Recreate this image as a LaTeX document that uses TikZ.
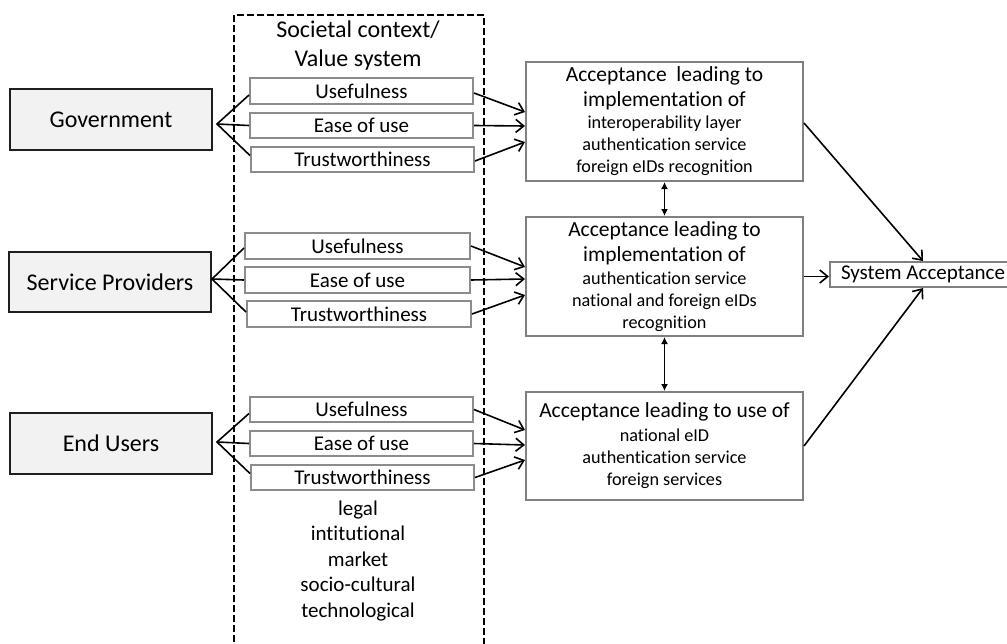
\documentclass[tikz,border=0pt]{standalone}
\usepackage{fontspec}
\setmainfont{Carlito}[Ligatures={NoCommon}]
\usetikzlibrary{arrows.meta}
\newcommand{\hdfont}{\fontsize{21.5}{25}\selectfont}
\begin{document}
\begin{tikzpicture}[x=1pt,y=-1pt,
  actor/.style={draw=black!88, line width=2.2pt, fill=black!5, inner sep=0pt, font=\fontsize{24}{28}\selectfont},
  factor/.style={draw=black!45, line width=2pt, fill=white, inner sep=0pt, font=\fontsize{21}{25}\selectfont},
  accbox/.style={draw=black!50, line width=2pt, fill=white, inner sep=0pt, align=center, font=\fontsize{18.2}{22}\selectfont},
  fanline/.style={line width=1.6pt},
  arr/.style={line width=1.6pt, -{Straight Barb[length=8pt,width=13pt]}},
  dbl/.style={line width=1.4pt, {Latex[length=7pt,width=7pt]}-{Latex[length=7pt,width=7pt]}},
  ctxbox/.style={draw, dash pattern=on 7pt off 3pt, line width=2.6pt, inner sep=0pt},
  plain/.style={align=center, inner sep=0pt}]
\useasboundingbox (0,0) rectangle (1007,643);
\clip (0,0) rectangle (1007,643);

% context frame
\node[ctxbox, minimum width=250pt, minimum height=650pt] (ctx) at (359,340) {};
\node[plain, font=\fontsize{24}{29}\selectfont] (ctxt) at (358,46) {Societal context/\\Value system};
\node[plain, font=\fontsize{21}{25.5}\selectfont] (dims) at (358,561) {legal\\intitutional\\market\\socio-cultural\\technological};

% actors
\node[actor, minimum width=202pt, minimum height=61pt] (gov) at (111,119.5) {Government};
\node[actor, minimum width=202pt, minimum height=60pt] (sp) at (110,282) {Service Providers};
\node[actor, minimum width=202pt, minimum height=61pt] (eu) at (111,443.5) {End Users};

% factors
\node[factor, minimum width=223pt, minimum height=26pt] (gu) at (361.5,91) {Usefulness};
\node[factor, minimum width=223pt, minimum height=25pt] (ge) at (361.5,125.5) {Ease of use};
\node[factor, minimum width=223pt, minimum height=25pt] (gt) at (362.5,159.5) {Trustworthiness};

\node[factor, minimum width=225pt, minimum height=26pt] (su) at (357.5,246) {Usefulness};
\node[factor, minimum width=225pt, minimum height=26pt] (se) at (357.5,280) {Ease of use};
\node[factor, minimum width=224pt, minimum height=26pt] (st) at (359,314) {Trustworthiness};

\node[factor, minimum width=223pt, minimum height=25pt] (eu1) at (361.5,409.5) {Usefulness};
\node[factor, minimum width=223pt, minimum height=25pt] (ee) at (361.5,443.5) {Ease of use};
\node[factor, minimum width=223pt, minimum height=25pt] (et) at (362.5,477.5) {Trustworthiness};

% acceptance boxes
\node[accbox, minimum width=277pt, minimum height=119pt] (a1) at (664.5,121.5)
  {{\hdfont Acceptance\ \ leading to}\\[3pt]{\hdfont implementation of}\\[0pt]interoperability layer\\authentication service\\foreign eIDs recognition};
\node[accbox, minimum width=277pt, minimum height=119pt] (a2) at (664.5,276.5)
  {{\hdfont Acceptance leading to}\\[3pt]{\hdfont implementation of}\\[1pt]authentication service\\national and foreign eIDs\\recognition};
\node[accbox, minimum width=277pt, minimum height=108pt] (a3) at (664.5,446)
  {{\hdfont Acceptance leading to use of}\\[2pt]national eID\\authentication service\\foreign services};
\node[factor, draw=black!50, minimum width=186pt, minimum height=25pt] (sa) at (923,274.5) {System Acceptance};

% fan coordinates
\coordinate (gf) at (217,124);
\coordinate (sf) at (212,279);
\coordinate (ef) at (217,442);

\draw[fanline] ([yshift=-4pt]gu.west) -- (gf) -- ([yshift=4pt]gt.west);
\draw[fanline] (gf) -- (ge.west);
\draw[fanline] ([yshift=-2pt]su.west) -- (sf) -- ([yshift=2pt]st.west);
\draw[fanline] (sf) -- (se.west);
\draw[fanline] ([yshift=-4pt]eu1.west) -- (ef) -- ([yshift=4pt]et.west);
\draw[fanline] (ef) -- (ee.west);

% factor -> acceptance
\draw[arr] ([yshift=-2pt]gu.east) -- ([yshift=9.5pt]a1.west);
\draw[arr] (ge.east) -- ([yshift=-4.5pt]a1.west);
\draw[arr] ([yshift=-1.5pt]gt.east) -- ([yshift=-20.5pt]a1.west);

\draw[arr] (su.east) -- ([yshift=9.5pt]a2.west);
\draw[arr] (se.east) -- ([yshift=-2.5pt]a2.west);
\draw[arr] (st.east) -- ([yshift=-18.5pt]a2.west);

\draw[arr] (eu1.east) -- ([yshift=16pt]a3.west);
\draw[arr] (ee.east) -- ([yshift=1pt]a3.west);
\draw[arr] (et.east) -- ([yshift=-14pt]a3.west);

% between acceptance boxes
\draw[dbl] (a1.south) -- (a2.north);
\draw[dbl] (a2.south) -- (a3.north);

% to system acceptance
\draw[arr] ([yshift=-1.5pt]a1.east) -- (sa.north);
\draw[arr] (a2.east) -- (a2.east -| sa.west);
\draw[arr] (a3.east) -- (sa.south);
\end{tikzpicture}
\end{document}
